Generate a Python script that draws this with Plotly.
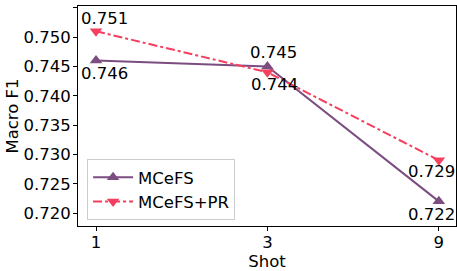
import plotly.graph_objects as go

shots = ["1", "3", "9"]
mcefs = [0.746, 0.745, 0.722]
mcefs_pr = [0.751, 0.744, 0.729]

purple = "#7b4d80"
red = "#f43f5e"
font = "DejaVu Sans"
fs = 16.5

fig = go.Figure()
fig.add_trace(go.Scatter(
    x=shots, y=mcefs, mode="lines+markers", name="MCeFS",
    line=dict(color=purple, width=2),
    marker=dict(symbol="triangle-up", size=11, color=purple),
))
fig.add_trace(go.Scatter(
    x=shots, y=mcefs_pr, mode="lines+markers", name="MCeFS+PR",
    line=dict(color=red, width=2, dash="dashdot"),
    marker=dict(symbol="triangle-down", size=11, color=red),
))

# label offsets (pixels): (xshift, yshift) ; positive yshift = up
off_mcefs = [(8, -13), (6, 14), (-7, -13)]
off_pr = [(8, 13), (7, -12), (-7, -11)]
for vals, offs in ((mcefs, off_mcefs), (mcefs_pr, off_pr)):
    for i, (v, (dx, dy)) in enumerate(zip(vals, offs)):
        fig.add_annotation(x=i, y=v, xref="x", yref="y", text=f"{v:.3f}",
                           showarrow=False, xshift=dx, yshift=dy,
                           font=dict(family=font, size=fs, color="black"))

fig.update_layout(
    width=457, height=271,
    margin=dict(l=78, r=1, t=6, b=45),
    paper_bgcolor="white", plot_bgcolor="white",
    font=dict(family=font, size=fs, color="black"),
    showlegend=True,
    legend=dict(x=0.024, y=0.305, xanchor="left", yanchor="top",
                bgcolor="rgba(255,255,255,0.8)", bordercolor="#cccccc", borderwidth=1,
                font=dict(family=font, size=fs), tracegroupgap=0,
                itemwidth=40),
)
fig.update_xaxes(
    type="category", range=[-0.105, 2.1], automargin=False,
    showline=True, mirror=True, linecolor="black", linewidth=1,
    ticks="outside", ticklen=4, tickcolor="black", ticklabelstandoff=-3,
    showgrid=False, zeroline=False,
    title=dict(text="Shot", standoff=12, font=dict(family=font, size=fs)),
)
fig.update_yaxes(
    range=[0.7178, 0.7553], automargin=False,
    tickvals=[0.720, 0.725, 0.730, 0.735, 0.740, 0.745, 0.750, 0.755],
    tickformat=".3f", ticklabelstandoff=-1,
    showline=True, mirror=True, linecolor="black", linewidth=1,
    ticks="outside", ticklen=4, tickcolor="black",
    showgrid=False, zeroline=False,
    title=dict(text="Macro F1", standoff=0, font=dict(family=font, size=fs)),
)

fig.write_html("out.html", config={"displayModeBar": False},
               post_script="document.body.style.margin='0';")
